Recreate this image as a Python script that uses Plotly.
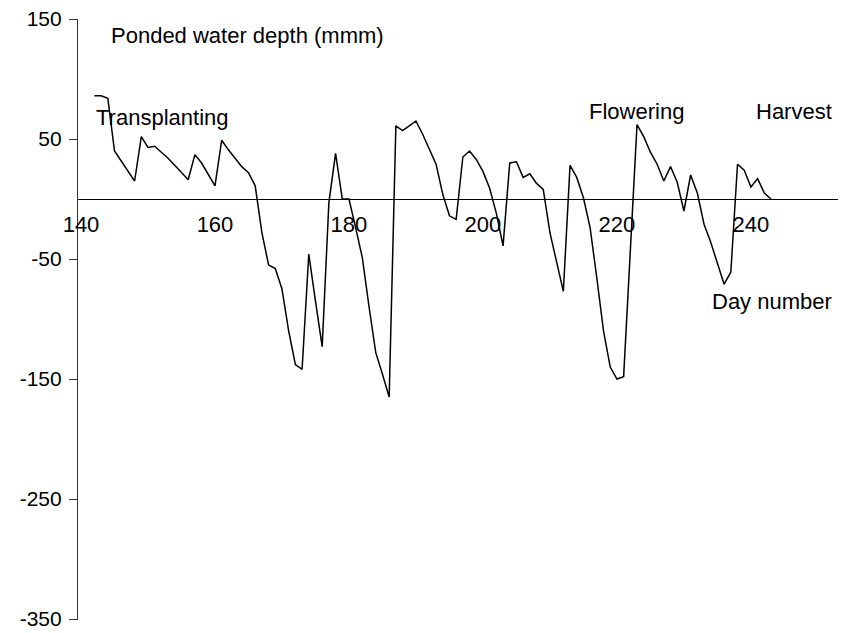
import plotly.graph_objects as go

# ponded water depth (mm) by day number
days = [142, 143, 144, 145, 148, 149, 150, 151, 152, 153, 155, 156, 157, 158, 160,
        161, 162, 163, 164, 165, 166, 167, 168, 169, 170, 171, 172, 173, 174, 175,
        176, 177, 178, 179, 180, 181, 182, 183, 184, 185, 186, 187, 188, 189, 190,
        191, 192, 193, 194, 195, 196, 197, 198, 199, 200, 201, 202, 203, 204, 205,
        206, 207, 208, 209, 210, 211, 212, 213, 214, 215, 216, 217, 218, 219, 220,
        221, 223, 224, 225, 226, 227, 228, 229, 230, 231, 232, 233, 234, 235, 236,
        237, 238, 239, 240, 241, 242, 243]
depth = [86, 86, 84, 40, 15, 52, 43, 44, 39, 34, 22, 16, 37, 30, 11,
         49, 41, 34, 27, 22, 11, -28, -55, -58, -75, -110, -138, -142, -46, -85,
         -123, -3, 38, 0, 0, -24, -49, -90, -128, -146, -165, 61, 57, 61, 65,
         54, 42, 29, 4, -14, -17, 35, 40, 33, 23, 9, -12, -39, 30, 31,
         18, 21, 13, 8, -28, -52, -77, 28, 18, 1, -24, -66, -110, -140, -150,
         -148, 62, 52, 39, 29, 15, 27, 14, -10, 20, 5, -21, -36, -53, -71,
         -61, 29, 24, 10, 17, 5, 0]

x_ticks = [140, 160, 180, 200, 220, 240]
y_ticks = [-350, -250, -150, -50, 50, 150]
y_tick_text = ["-350", "-250", "-150", "-50", "50", "150"]

FONT = "Liberation Sans, Arial, sans-serif"
FS = 22

fig = go.Figure(go.Scatter(
    x=days, y=depth, mode="lines",
    line=dict(color="black", width=1.5),
    showlegend=False,
))

labels = [
    ("Ponded water depth (mmm)", 144.2, 136),
    ("Transplanting", 142.0, 68),
    ("Flowering", 215.6, 73),
    ("Harvest", 240.5, 73),
    ("Day number", 233.9, -85),
]
for txt, x, y in labels:
    fig.add_annotation(x=x, y=y, text=txt, showarrow=False,
                       xanchor="left", yanchor="middle",
                       font=dict(family=FONT, size=FS, color="black"))

fig.update_xaxes(range=[139.55, 253], tickvals=x_ticks, anchor="free", position=0.7,
                 showline=True, linecolor="black", linewidth=1, ticks="",
                 showgrid=False, zeroline=False, ticklabelstandoff=5,
                 automargin=False,
                 tickfont=dict(family=FONT, size=FS, color="black"))
fig.update_yaxes(range=[-350.8, 150], tickvals=y_ticks, ticktext=y_tick_text,
                 showline=True, linecolor="#333333", linewidth=1.2,
                 ticks="outside", ticklen=8, tickcolor="#333333",
                 showgrid=False, zeroline=False, ticklabelstandoff=3,
                 automargin=False, ticklabeloverflow="allow",
                 tickfont=dict(family=FONT, size=21, color="black"))
fig.update_layout(width=844, height=633, margin=dict(l=78, r=6, t=19, b=13),
                  plot_bgcolor="white", paper_bgcolor="white")
# drop the default page margin so the chart sits at the window's corner
fig.write_html("out.html", config={"displayModeBar": False},
               post_script="document.body.style.margin='0px';")
